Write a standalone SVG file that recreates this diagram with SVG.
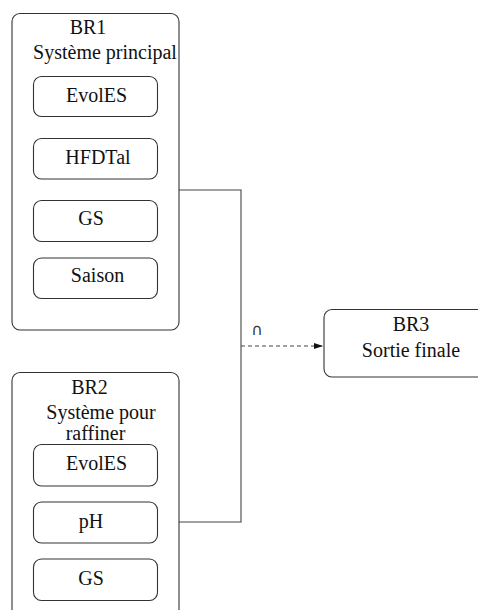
<svg xmlns="http://www.w3.org/2000/svg" width="478" height="610" viewBox="0 0 478 610">
<style>
.box{fill:#fff;stroke:#333;stroke-width:1.1}
.t{font-family:"Liberation Serif","Times New Roman",serif;font-size:20px;fill:#111;text-anchor:middle}
.c{fill:none;stroke:#444;stroke-width:1.1}
</style>
<defs>
<marker id="ah" markerWidth="9" markerHeight="6" refX="9" refY="3" orient="auto" markerUnits="userSpaceOnUse">
<path d="M0,0 L9,3 L0,6 Z" fill="#111"/>
</marker>
</defs>
<g id="connectors">
<path class="c" d="M179,190 H241 V522 H179"/>
<path class="c" d="M241,346 H323" stroke-dasharray="4,3" marker-end="url(#ah)"/>
<text x="257" y="335" style="font-family:'DejaVu Sans',sans-serif;font-size:16px;fill:#333;text-anchor:middle">∩</text>
</g>
<g id="BR1">
<rect class="box" x="12" y="13.5" width="167" height="316.5" rx="8"/>
<text class="t" x="88" y="34">BR1</text>
<text class="t" x="105" y="59">Système principal</text>
</g>
<g id="BR1-EvolES">
<rect class="box" x="33.5" y="76.5" width="124" height="40" rx="8"/>
<text class="t" x="96.5" y="102">EvolES</text>
</g>
<g id="BR1-HFDTal">
<rect class="box" x="33.5" y="138.5" width="124" height="40.5" rx="8"/>
<text class="t" x="98" y="164">HFDTal</text>
</g>
<g id="BR1-GS">
<rect class="box" x="33.5" y="200.5" width="124" height="41" rx="8"/>
<text class="t" x="91" y="225">GS</text>
</g>
<g id="BR1-Saison">
<rect class="box" x="33.5" y="258" width="124" height="40.5" rx="8"/>
<text class="t" x="97.5" y="282">Saison</text>
</g>
<g id="BR2">
<rect class="box" x="12" y="372.5" width="167" height="260" rx="8"/>
<text class="t" x="89.5" y="394">BR2</text>
<text class="t" x="101" y="419">Système pour</text>
<text class="t" x="95.5" y="440">raffiner</text>
</g>
<g id="BR2-EvolES">
<rect class="box" x="33.5" y="444.5" width="124" height="41.5" rx="8"/>
<text class="t" x="96.5" y="470">EvolES</text>
</g>
<g id="BR2-pH">
<rect class="box" x="33.5" y="502" width="124" height="41" rx="8"/>
<text class="t" x="91" y="527.5">pH</text>
</g>
<g id="BR2-GS">
<rect class="box" x="33.5" y="559" width="124" height="41.5" rx="8"/>
<text class="t" x="91" y="585">GS</text>
</g>
<g id="BR3">
<rect class="box" x="324" y="309.5" width="170" height="67.5" rx="8"/>
<text class="t" x="411" y="331">BR3</text>
<text class="t" x="411" y="357">Sortie finale</text>
</g>
</svg>
